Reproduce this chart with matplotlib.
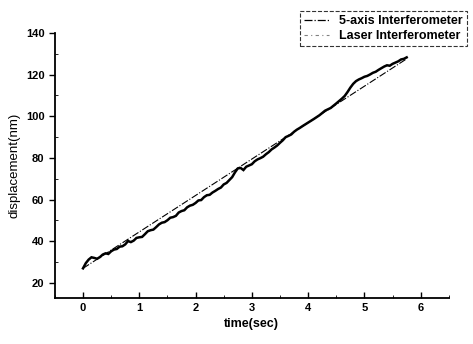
import numpy as np
from matplotlib import pyplot as plt
from matplotlib.lines import Line2D

plt.rcParams['font.family'] = ['Liberation Sans', 'DejaVu Sans']

# 5-axis interferometer (near-straight reference)
t_ref = [0.0, 5.75]
d_ref = [27.0, 127.6]

# laser interferometer (noisy trace)
t_laser = [0.0, 0.05, 0.1, 0.15, 0.2, 0.25, 0.3, 0.35, 0.4, 0.45, 0.5, 0.55, 0.6, 0.65,
           0.7, 0.75, 0.8, 0.85, 0.9, 0.95, 1.0, 1.05, 1.1, 1.15, 1.2, 1.25, 1.3,
           1.35, 1.4, 1.45, 1.5, 1.55, 1.6, 1.65, 1.7, 1.75, 1.8, 1.85, 1.9, 1.95,
           2.0, 2.05, 2.1, 2.15, 2.2, 2.25, 2.3, 2.35, 2.4, 2.45, 2.5, 2.55, 2.6,
           2.65, 2.7, 2.75, 2.8, 2.85, 2.9, 2.95, 3.0, 3.05, 3.1, 3.15, 3.2, 3.25,
           3.3, 3.35, 3.4, 3.45, 3.5, 3.55, 3.6, 3.65, 3.7, 3.75, 3.8, 3.85, 3.9,
           4.0, 4.1, 4.2, 4.3, 4.4, 4.5, 4.6, 4.65, 4.7, 4.75, 4.8, 4.85, 4.9,
           4.95, 5.0, 5.05, 5.1, 5.15, 5.2, 5.25, 5.3, 5.35, 5.4, 5.45, 5.5,
           5.55, 5.6, 5.65, 5.7, 5.75]
d_laser = [27.0, 29.5, 31.2, 32.3, 32.0, 31.6, 32.4, 33.6, 34.2, 33.9, 35.2, 36.0, 36.3, 37.4,
           37.6, 38.5, 40.1, 39.6, 40.3, 41.6, 41.9, 42.1, 43.4, 44.8, 45.3, 45.6, 46.8,
           48.1, 48.9, 49.2, 50.1, 51.3, 51.6, 52.2, 53.8, 54.5, 54.9, 56.3, 57.1, 57.5,
           58.4, 59.6, 59.8, 61.2, 62.1, 62.3, 63.4, 64.2, 65.1, 65.8, 67.3, 68.0, 69.4,
           70.8, 73.1, 75.0, 75.2, 74.2, 75.8, 76.4, 77.0, 78.4, 79.3, 79.9, 80.6, 81.8,
           82.8, 84.1, 85.0, 86.0, 87.3, 88.5, 90.0, 90.6, 91.3, 92.6, 93.6, 94.4, 95.3,
           97.0, 98.7, 100.5, 102.7, 104.0, 106.2, 108.5, 109.8, 111.7, 113.8, 115.6, 116.9, 117.7,
           118.3, 119.0, 119.4, 120.1, 120.9, 121.4, 122.3, 123.1, 123.9, 124.5, 124.3, 125.2,
           125.8, 126.4, 127.3, 127.6, 128.3]

yticks = [20, 40, 60, 80, 100, 120, 140]
xticks = [0, 1, 2, 3, 4, 5, 6]

fig = plt.figure(figsize=(4.73, 3.44), dpi=100)
ax = fig.add_axes([0.116, 0.134, 0.833, 0.770])

ax.plot(t_ref, d_ref, color='black', lw=0.8, ls='-.')
ax.plot(t_laser, d_laser, color='black', lw=1.8, ls='-', solid_joinstyle='miter')

ax.set_xlim(-0.5, 6.5)
ax.set_ylim(12.8, 140)
ax.set_xticks(xticks)
ax.set_yticks(yticks)
ax.set_xticks(np.arange(-0.5, 6.6, 0.5), minor=True)
ax.set_yticks(np.arange(20, 141, 10), minor=True)
ax.tick_params(axis='x', direction='in', length=4, labelsize=8, width=1)
ax.tick_params(axis='x', which='minor', direction='in', length=2)
ax.tick_params(axis='y', direction='out', length=4, labelsize=8, width=1)
ax.tick_params(axis='y', which='minor', direction='in', length=2)
for lab in ax.get_xticklabels() + ax.get_yticklabels():
    lab.set_fontweight('bold')

ax.spines['top'].set_visible(False)
ax.spines['right'].set_visible(False)
ax.spines['left'].set_linewidth(1.3)
ax.spines['bottom'].set_linewidth(1.3)

ax.set_xlabel('time(sec)', fontsize=9, fontweight='bold')
ax.set_ylabel('displacement(nm)', fontsize=9.5)

handles = [Line2D([], [], color='black', lw=0.9, ls='-.'),
           Line2D([], [], color='gray', lw=0.8, ls=(0, (3, 3, 1, 3)))]
leg = ax.legend(handles, ['5-axis Interferometer', 'Laser Interferometer'],
                loc='upper left', bbox_to_anchor=(0.622, 0.985), bbox_transform=fig.transFigure,
                fontsize=9, frameon=True, fancybox=False, handlelength=2.0,
                borderpad=0.3, labelspacing=0.25, edgecolor='black')
leg.get_frame().set_linestyle('--')
leg.get_frame().set_linewidth(0.8)
for txt in leg.get_texts():
    txt.set_fontweight('bold')

fig.savefig('out.png', dpi=100)
